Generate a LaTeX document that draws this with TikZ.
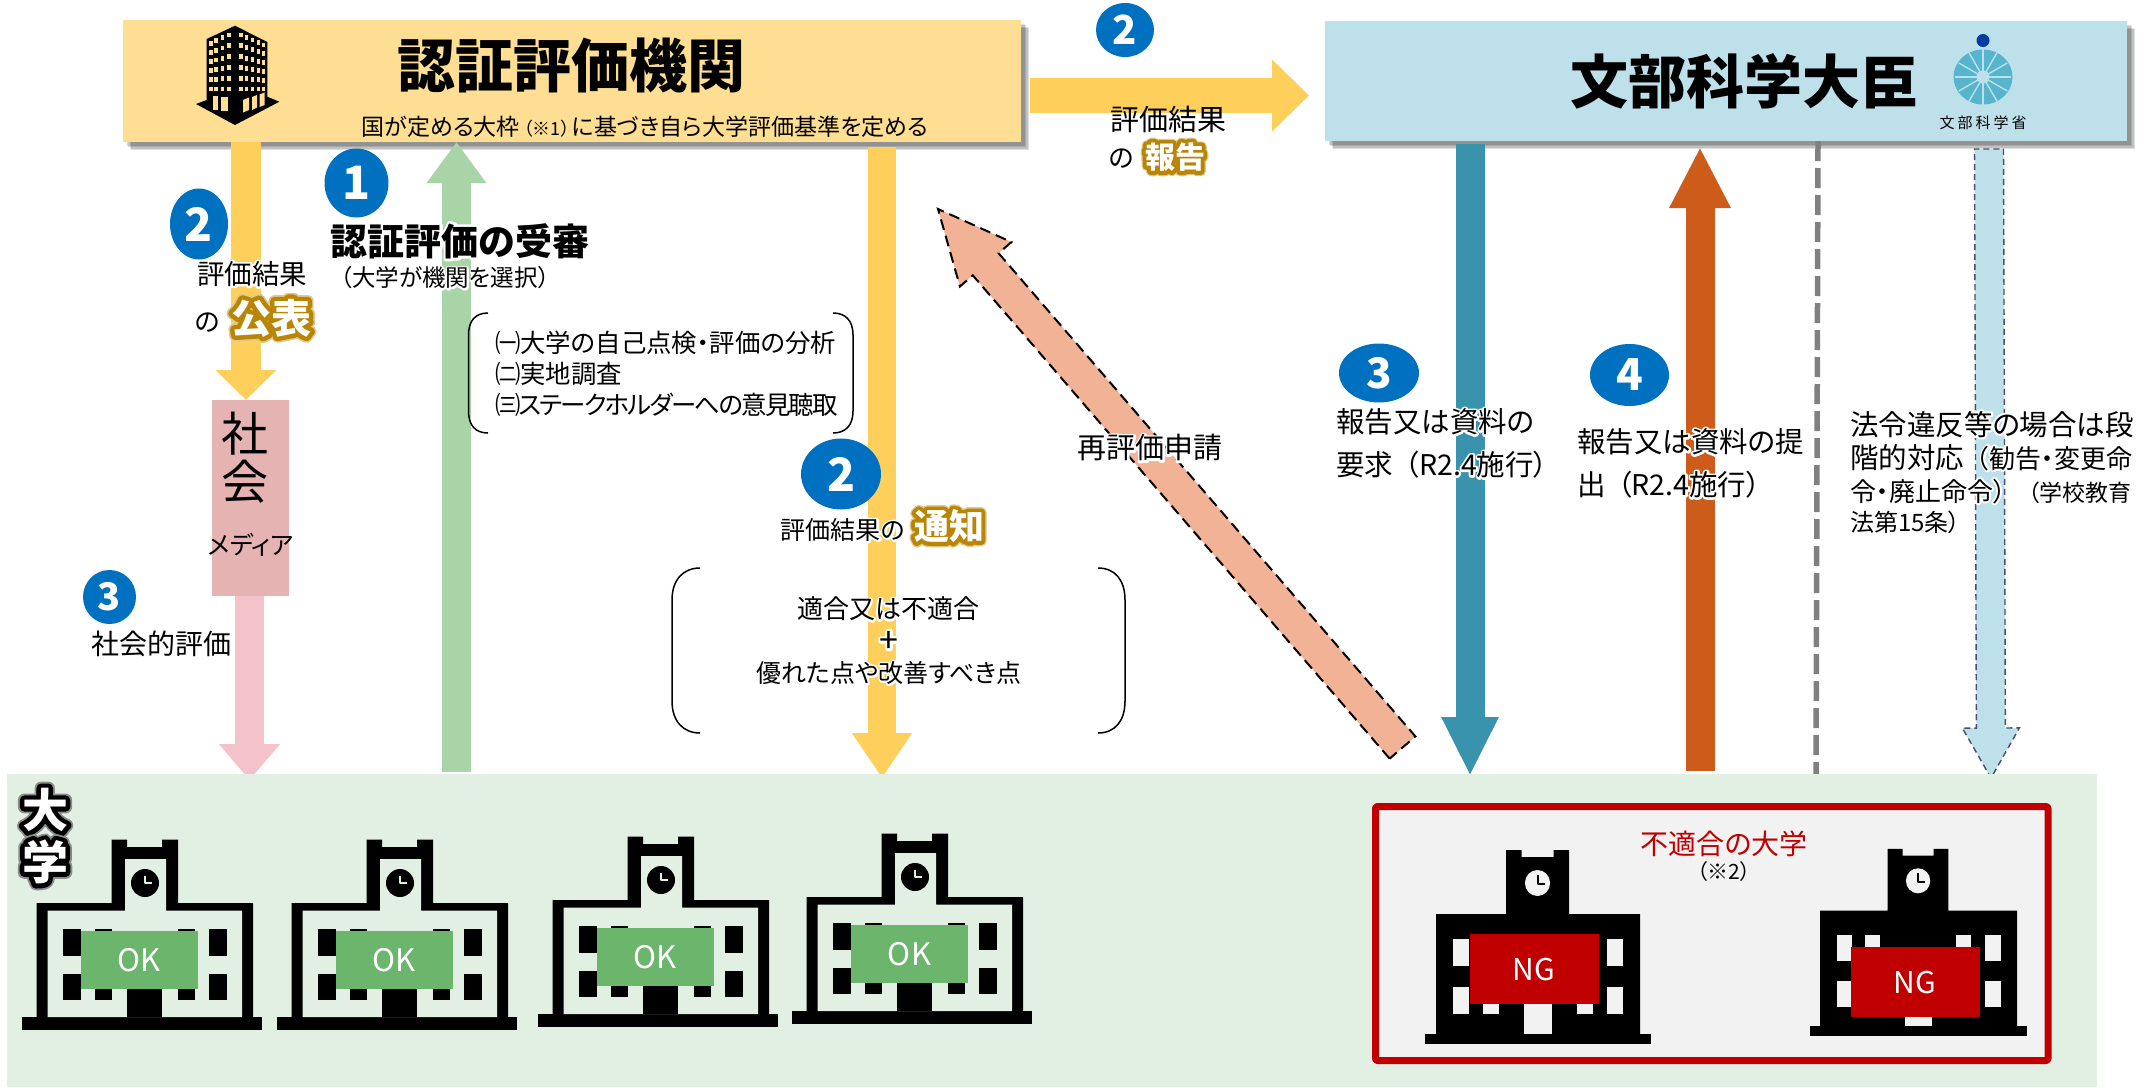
\documentclass[tikz,border=0pt]{standalone}
\usepackage{fontspec}
\setmainfont{Noto Sans CJK JP}[RawFeature=+palt]
\usetikzlibrary{arrows.meta,calc,shapes.geometric}
\pgfdeclarelayer{bg}
\pgfsetlayers{bg,main}
\definecolor{agencyc}{HTML}{FDDE92}
\definecolor{minic}{HTML}{BEE0EA}
\definecolor{socc}{HTML}{E6B3B3}
\definecolor{bandc}{HTML}{E2F0E3}
\definecolor{yel}{HTML}{FFCF5B}
\definecolor{grn}{HTML}{A9D4A7}
\definecolor{pnk}{HTML}{F4C2CB}
\definecolor{teal1}{HTML}{3A93AD}
\definecolor{org}{HTML}{CD5C1B}
\definecolor{salm}{HTML}{F2B296}
\definecolor{ltb}{HTML}{BDE0EB}
\definecolor{badgec}{HTML}{0070C0}
\definecolor{gold}{HTML}{B98505}
\definecolor{okc}{HTML}{6CB56C}
\definecolor{ngc}{HTML}{C00000}
\definecolor{ngbg}{HTML}{F2F2F2}
\definecolor{wheelc}{HTML}{56B5CC}
\definecolor{dotc}{HTML}{003E9F}
\newcommand\fz[2]{\fontsize{#1pt}{#2pt}\selectfont}
\newcommand\glow[3]{\leavevmode\rlap{\color{#1}\addfontfeature{FakeBold=#2}#3}#3}
\newcommand\glowb[4]{\leavevmode\rlap{\color{#1!45!white}\addfontfeature{FakeBold=#2}#4}\glow{#1}{#3}{#4}}
\newcommand\wh[1]{\glow{white}{15}{#1}}
\newcommand\dashblock[6]{%
  \coordinate (tmpB) at ($(#2)!#5pt!(#1)$);
  \draw[#6] ($(#1)!#3pt!90:(#2)$) -- ($(tmpB)!#3pt!90:(#2)$) -- ($(tmpB)!#4pt!90:(#2)$) -- (#2)
    -- ($(tmpB)!#4pt!-90:(#2)$) -- ($(tmpB)!#3pt!-90:(#2)$) -- ($(#1)!#3pt!-90:(#2)$) -- cycle;}
\newcommand\okschool[3]{%
  \begin{scope}[shift={(#2,#3)}]
    \fill (0,0) rectangle (240,-13);
    \fill (14.5,-13) -- (14.5,-127) -- (89.5,-127) -- (89.5,-190.5) -- (105,-190.5) -- (105,-183) -- (140,-183) -- (140,-190.5) -- (156,-190.5) -- (156,-127) -- (231,-127) -- (231,-13) -- cycle;
    \fill[bandc] (25.7,-13) -- (25.7,-119.5) -- (103,-119.5) -- (103,-171) -- (144,-171) -- (144,-119.5) -- (220,-119.5) -- (220,-13) -- cycle;
    \fill (123,-147) ellipse [x radius=14,y radius=14];
    \draw[bandc,line width=2] (123,-154) -- (123,-147) -- (130,-147);
    \foreach \wx in {41,187}{\fill (\wx,-101.5) rectangle ++(18,27); \fill (\wx,-56) rectangle ++(18,26);}
    \foreach \wx in {73,155.5}{\fill (\wx,-101.5) rectangle ++(17,15); \fill (\wx,-42) rectangle ++(17,12);}
    \fill (105,-42) rectangle (140,-13);
    \node[okbox] (#1) at (117.5,-70) {OK};
  \end{scope}}
\newcommand\ngschool[5]{%
  \begin{scope}[shift={(#2,#3)},xscale=#4,yscale=#5]
    \fill (0,0) rectangle (225.5,-10);
    \fill (11,-10) -- (11,-130) -- (81,-130) -- (81,-194) -- (96.5,-194) -- (96.5,-187) -- (128.5,-187) -- (128.5,-194) -- (144,-194) -- (144,-130) -- (215,-130) -- (215,-10) -- cycle;
    \fill[ngbg] (112.5,-161) ellipse [x radius=12.6,y radius=13];
    \draw[line width=2] (112.5,-169) -- (112.5,-160) -- (120,-160);
    \foreach \wx in {28,182}{\fill[ngbg] (\wx,-105) rectangle ++(16,27); \fill[ngbg] (\wx,-57) rectangle ++(16,27);}
    \foreach \wx in {58,152}{\fill[ngbg] (\wx,-105) rectangle ++(15.5,15); \fill[ngbg] (\wx,-42) rectangle ++(15.5,12);}
    \fill[ngbg] (98.5,-42) rectangle (127,-10);
  \end{scope}}
\tikzset{
  plate/.style={rectangle,inner sep=0pt,outer sep=0pt},
  badge/.style={ellipse,fill=badgec,text=white,inner sep=0pt,outer sep=0pt,font=\bfseries},
  txt/.style={inner sep=0pt,outer sep=0pt,text=black},
  okbox/.style={plate,fill=okc,text=white,minimum width=117,minimum height=57.5,font=\fz{31}{36}},
  ngboxs/.style={plate,fill=ngc,text=white,minimum width=129,minimum height=70,font=\fz{30}{36}},
  brk/.style={draw=black,line width=1.5pt},
  harrow/.style n args={5}{draw=#1,line width=#2pt,-{Triangle[length=#3pt,width=#4pt,sep=0pt]},#5},
  dashy/.style={fill=salm,draw=black,line width=2pt,dash pattern=on 11pt off 6pt},
  dashb/.style={fill=ltb,draw=black!80!blue!70,line width=1.4pt,dash pattern=on 6pt off 4pt},
}
\begin{document}
\begin{tikzpicture}[x=1pt,y=-1pt,line join=round]
\useasboundingbox (0,0) rectangle (2149,1087);
% plates
\node[plate,fill=agencyc,minimum width=898,minimum height=122] (agency) at (572,81) {};
\node[plate,fill=minic,minimum width=802,minimum height=120] (minister) at (1726,81) {};
\node[plate,fill=socc,minimum width=77,minimum height=196] (society) at (250.5,498) {};
\node[plate,fill=bandc,minimum width=2090,minimum height=313] (univ) at (1052,930.5) {};
% named free x positions
\coordinate (xA) at (246,0); \coordinate (xB) at (456.5,0); \coordinate (xC) at (882,0);
\coordinate (xD) at (249.5,0); \coordinate (xE) at (1470,0); \coordinate (xF) at (1700,0);
\coordinate (xG) at (1818,0); \coordinate (xH) at (1816,0);
\coordinate (rs) at (1030,95.5); \coordinate (rt) at (1309,95.5);
\begin{pgfonlayer}{bg}
  \fill[white] (0,0) rectangle (2149,1087);
  \foreach \d in {8,6.5,5,3.5}{
    \fill[black,opacity=.13] (123+\d,20+\d) rectangle (1021+\d,142+\d);
    \fill[black,opacity=.13] (1325+\d,21+\d) rectangle (2127+\d,141+\d);}
  \draw[harrow={yel}{29.5}{30}{59}{}] (agency.south -| xA) -- (society.north -| xA);
  \draw[harrow={grn}{28.5}{41}{57}{}] ($(univ.north -| xB)+(0,-2)$) -- (agency.south -| xB);
  \draw[harrow={yel}{28}{45}{57}{}] ($(agency.south -| xC)+(0,5)$) -- ($(univ.north -| xC)+(0,4)$);
  \draw[harrow={pnk}{29.5}{36}{59}{}] (society.south -| xD) -- ($(univ.north -| xD)+(0,6)$);
  \draw[harrow={yel}{35}{37}{70}{}] (rs) -- (rt);
  \draw[harrow={teal1}{29}{59}{53}{}] ($(minister.south -| xE)+(0,3)$) -- ($(univ.north -| xE)+(0,2)$);
  \draw[harrow={org}{29}{61}{57}{}] ($(univ.north -| xF)+(0,-3)$) -- ($(minister.south -| xF)+(0,6)$);
  \draw[gray,line width=5.5pt,dash pattern=on 20pt off 7pt] (minister.south -| xG) -- (univ.north -| xH);
  \coordinate (rt1) at (1402.5,747.5); \coordinate (rt2) at (938,209);
  \dashblock{rt1}{rt2}{17}{34}{73}{dashy}
  \coordinate (lb1) at (1989,149); \coordinate (lb2) at (1991,778);
  \dashblock{lb1}{lb2}{14.5}{28.5}{50}{dashb}
\end{pgfonlayer}
% agency content: tower icon
\fill (206.7,39) -- (235,25.7) -- (267.3,42) -- (267.3,96.7) -- (279.3,101.7) -- (235,125) -- (196,104) -- (206.7,100) -- cycle;
\foreach \wx/\wy in {210.7/43.3,216/40.7,222.3/37.7,229/35}{
  \foreach \r in {0,...,5}{
    \pgfmathsetmacro\yy{\wy+\r*(89-\wy)/5}
    \fill[agencyc] (\wx-1.8,\yy-2.4) rectangle ++(3.6,4.8);}}
\foreach \wx/\wy in {241/35,246.7/37.5,252.7/40,258.3/42.5,263.3/45}{
  \foreach \r in {0,...,5}{
    \pgfmathsetmacro\yy{\wy+\r*(89-\wy)/5}
    \fill[agencyc] (\wx-1.6,\yy-2.4) rectangle ++(3.2,4.8);}}
\fill[agencyc] (212.5,96) rectangle (218,110);
\fill[agencyc] (221,97) rectangle (227.5,111);
\fill[agencyc] (243,100) -- (249,97.5) -- (249,110) -- (243,112.5) -- cycle;
\fill[agencyc] (252,97) -- (257,95) -- (257,107.5) -- (252,110) -- cycle;
\fill[agencyc] (259.5,94.5) -- (264.5,92.5) -- (264.5,105) -- (259.5,107) -- cycle;
\node[txt,font=\bfseries\fz{58}{60}] (agt) at (571,65) {認証評価機関};
\node[txt,font=\fz{23}{26}] (agsub) at (645,127) {国が定める大枠\hspace{4pt}{\fz{18}{26}（※1）}\hspace{2pt}に基づき自ら大学評価基準を定める};
% minister content
\node[txt,font=\bfseries\fz{58}{60}] (mint) at (1744,81) {文部科学大臣};
\node[ellipse,fill=dotc,minimum width=13,minimum height=13,inner sep=0pt] (ldot) at (1983,40.5) {};
\node[ellipse,fill=wheelc,minimum width=59,minimum height=55,inner sep=0pt] (lwheel) at (1983,77) {};
\foreach \a in {0,30,...,330}{\draw[minic,line width=1.4pt] (lwheel.center) -- ++(\a:28);}
\fill[minic] (lwheel.center) circle (6.5);
\node[txt,font=\fz{15}{20}] (lname) at (1983,123) {文\hspace{3pt}部\hspace{3pt}科\hspace{3pt}学\hspace{3pt}省};
% right yellow arrow label
\node[badge,minimum width=58,minimum height=54,font=\bfseries\fz{40}{44}] (b2c) at (1125,30) {2};
\node[txt,font=\fz{29}{34},anchor=west] (l2c) at (1110,120) {評価結果};
\node[txt,font=\fz{26}{30}] (l2cb) at (1121,159) {の};
\node[txt,font=\bfseries\fz{30}{34},text=white] (l2cc) at (1175,157) {\glowb{gold}{34}{26}{報告}};
% left
\node[badge,minimum width=64,minimum height=69,font=\bfseries\fz{46}{50}] (b1) at (356.5,183) {1};
\node[badge,minimum width=58,minimum height=71,font=\bfseries\fz{46}{50}] (b2a) at (199,224) {2};
\node[txt,font=\fz{27.5}{30}] (l2a) at (252,274) {\wh{評価結果}};
\node[txt,font=\fz{26}{30}] (l2ab) at (207,323) {の};
\node[txt,font=\bfseries\fz{40}{44},text=white] (l2ac) at (271,318) {\glowb{gold}{30}{22}{公表}};
\node[txt,font=\bfseries\fz{37}{40}] (l1) at (460,241) {\wh{認証評価の受審}};
\node[txt,font=\fz{23.5}{26}] (l1b) at (445,278) {\wh{（大学が機関を選択）}};
\draw[brk] (488,313) .. controls (476,313) and (468.5,320) .. (468.5,335) -- (468.5,411) .. controls (468.5,426) and (476,433) .. (488,433);
\draw[brk] (833,313) .. controls (845,313) and (853,320) .. (853,335) -- (853,411) .. controls (853,426) and (845,433) .. (833,433);
\node[txt,font=\fz{25.4}{31},align=left,anchor=west] (list) at (495,374) {㈠大学の自己点検・評価の分析\\㈡実地調査\\{\addfontfeature{LetterSpace=-7}㈢ステークホルダーへの意見聴取}};
\node[txt,font=\fz{47}{48},align=center] (soct) at (244.5,458) {社\\会};
\node[txt,font=\fz{25}{28}] (soct2) at (251,545) {メディア};
\node[badge,minimum width=53,minimum height=54,font=\bfseries\fz{38}{42}] (b3a) at (109.5,597) {3};
\node[txt,font=\fz{28}{32}] (l3a) at (161,644) {社会的評価};
% mid
\node[badge,minimum width=80,minimum height=71,font=\bfseries\fz{46}{50}] (b2b) at (841,474) {2};
\node[txt,font=\fz{25}{30}] (l2b) at (843,530) {\wh{評価結果の}};
\node[txt,font=\bfseries\fz{35}{38},text=white] (l2bc) at (949,526) {\glowb{gold}{30}{22}{通知}};
\draw[brk] (700,568) .. controls (683,568) and (672,580) .. (672,600) -- (672,701) .. controls (672,721) and (683,733) .. (700,733);
\draw[brk] (1098,568) .. controls (1115,568) and (1125,580) .. (1125,600) -- (1125,701) .. controls (1125,721) and (1115,733) .. (1098,733);
\node[txt,font=\fz{26}{30}] (j1) at (888,609) {\wh{適合又は不適合}};
\node[txt,font=\fz{34}{36}] (j2) at (889,642) {\wh{+}};
\node[txt,font=\fz{25}{30}] (j3) at (889,673) {\wh{優れた点や改善すべき点}};
\node[txt,font=\fz{29}{34}] (re) at (1150,448) {\wh{再評価申請}};
% right
\node[badge,minimum width=80,minimum height=59,font=\bfseries\fz{42}{46}] (b3b) at (1379,373) {3};
\node[txt,font=\fz{28.5}{43},align=left,anchor=west] (l3b) at (1336,443.5) {\wh{報告又は資料の}\\\wh{要求\hspace{12pt}（R2.4施行）}};
\node[badge,minimum width=79,minimum height=62,font=\bfseries\fz{44}{48}] (b4) at (1629.5,375) {4};
\node[txt,font=\fz{28.5}{43},align=left,anchor=west] (l4) at (1577,463.5) {\wh{報告又は資料の提}\\\wh{出\hspace{12pt}（R2.4施行）}};
\node[txt,align=left,anchor=north west,font=\fz{28.5}{33}] (law) at (1850,411) {\wh{法令違反等の場合は段}\\{\fz{28.5}{33}\wh{階的対応\hspace{12pt}}\fz{26}{33}\wh{（勧告・変更命}}\\{\fz{26}{33}\wh{令・廃止命令）\hspace{22pt}}\fz{23}{33}\wh{（学校教育}}\\[-3pt]{\fz{24}{30}\wh{法第15条）}}};
% university band
\node[txt,font=\bfseries\fz{46}{52},align=center,text=white] (uni) at (45,836) {\glowb{black}{28}{20}{大}\\\glowb{black}{28}{20}{学}};
\okschool{ok1}{22}{1030}
\okschool{ok2}{277}{1030}
\okschool{ok3}{538}{1027}
\okschool{ok4}{792}{1024}
\node[plate,draw=ngc,line width=7pt,fill=ngbg,rounded corners=2pt,minimum width=672.5,minimum height=254] (ngbox) at (1711.75,933.5) {};
\ngschool{n1}{1425}{1044}{1}{1}
\ngschool{n2}{1809.5}{1036}{0.965}{0.964}
\node[ngboxs] (ng1) at (1534,969) {NG};
\node[ngboxs] (ng2) at (1915,982) {NG};
\node[txt,text=ngc,font=\fz{28}{32}] (ngt) at (1724,844) {不適合の大学};
\node[txt,font=\fz{21}{24}] (ngt2) at (1724,872) {（※2）};
\end{tikzpicture}
\end{document}
